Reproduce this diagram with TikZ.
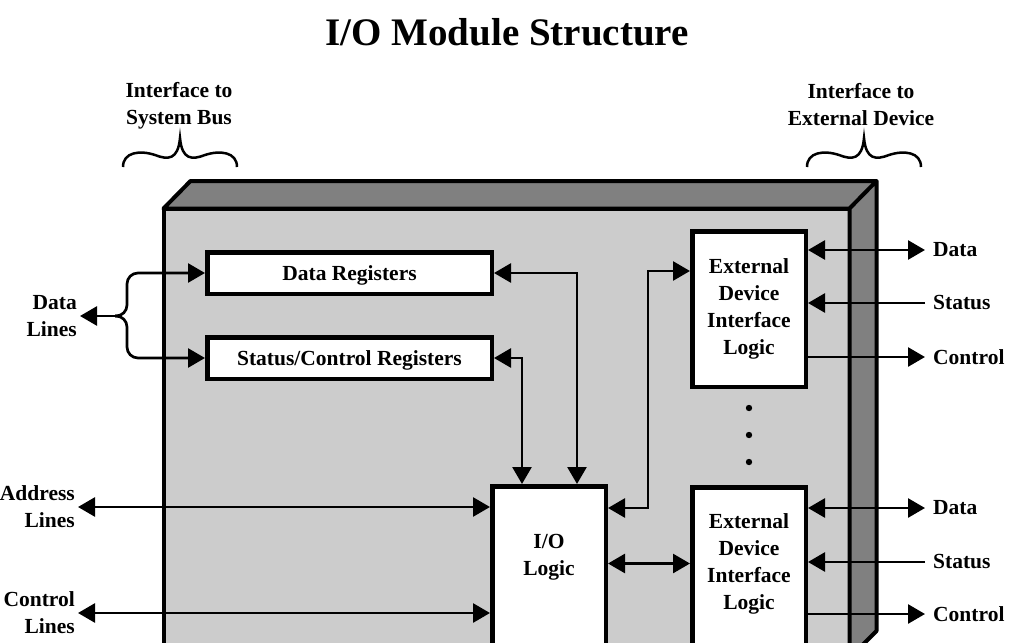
\documentclass[tikz,border=0pt]{standalone}
\usepackage{fontspec}
\setmainfont{Liberation Serif}
\usetikzlibrary{arrows.meta,calc}

\begin{document}
\begin{tikzpicture}[x=1pt,y=-1pt,
    every node/.style={font=\bfseries\fontsize{21.5}{27}\selectfont, align=center},
    regbox/.style={draw, line width=4.5pt, fill=white, anchor=north west, minimum width=284.5pt, minimum height=41.5pt, text depth=0pt},
    logicbox/.style={draw, line width=4.5pt, fill=white, anchor=north west, minimum width=113.5pt},
    leftlbl/.style={anchor=east, align=right, inner xsep=3pt},
    rightlbl/.style={anchor=west, inner xsep=8pt},
    sgl/.style={line width=2.7pt, -{Triangle[length=17pt,width=19pt]}},
    dbl/.style={line width=2.7pt, {Triangle[length=17pt,width=19pt]}-{Triangle[length=17pt,width=19pt]}}]
    \useasboundingbox (0,0) rectangle (1021,643);

    \node (title) [anchor=base, font=\bfseries\fontsize{39}{45}\selectfont] at (507,45) {I/O Module Structure};
    \node (busif) at (179,106) {Interface to\\System Bus};
    \node (extif) at (861,105) {Interface to\\External Device};
    \foreach \bx in {123,807}
        \draw [line width=2.5pt, shift={(\bx,0)}]
        (0,167) .. controls (0,152) and (17,150) .. (32,155)
        .. controls (45,160) and (55,160) .. (57,138)
        .. controls (59,160) and (69,160) .. (82,155)
        .. controls (97,150) and (114,152) .. (114,167);

    \draw [line width=4pt, line join=round, fill=black!20] (163.5,208.5) rectangle (849.5,662);
    \draw [line width=4pt, line join=round, fill=black!50]
    (163.5,208.5) -- (190.5,181) -- (876.5,181) -- (849.5,208.5) -- cycle
    (849.5,208.5) -- (876.5,181) -- (876.5,631) -- (849.5,658) -- cycle;

    \node (dreg) [regbox] at (205,250) {Data Registers};
    \node (sreg) [regbox] at (205,335) {Status/Control Registers};
    \node (edil1) [logicbox, minimum height=155.5pt] at (690,229) {External\\Device\\Interface\\Logic};
    \node (edil2) [logicbox, minimum height=170pt] at (690,485) {};
    \node (e2txt) at (749,563.5) {External\\Device\\Interface\\Logic};
    \node (iol) [logicbox, minimum height=170pt] at (490,484) {};
    \node (iotxt) at (549,557.5) {I/O\\Logic};
    \foreach \y in {408,435,462}
        \fill (749,\y) circle (3.2);

    \node (dlines) [leftlbl] at (80,316) {Data\\Lines};
    \node (addr) [leftlbl] at (78,507) {Address\\Lines};
    \node (ctrl) [leftlbl] at (78,613) {Control\\Lines};
    \node (d1) [rightlbl] at (925,250) {Data};
    \node (s1) [rightlbl] at (925,303) {Status};
    \node (c1) [rightlbl] at (925,357) {Control};
    \node (d2) [rightlbl] at (925,508) {Data};
    \node (s2) [rightlbl] at (925,562) {Status};
    \node (c2) [rightlbl] at (925,614) {Control};

    \coordinate (dj) at (115,316);
    \draw [line width=2.7pt, {Triangle[length=17pt,width=19pt]}-] (dlines.east) -- (dj);
    \draw [sgl, rounded corners=11pt] (dj) -- (127,316) |- (dreg.west);
    \draw [sgl, rounded corners=11pt] (dj) -- (127,316) |- (sreg.west);
    \draw [dbl] (dreg.east) -| ($(iol.north)+(28,0)$);
    \draw [dbl] (sreg.east) -| ($(iol.north)+(-27,0)$);
    \draw [dbl] ($(iol.north east)+(0,24)$) -- ++(40,0) |- ($(edil1.north west)+(0,42)$);
    \draw [dbl] (iol.east |- e2txt) -- (edil2.west |- e2txt);
    \draw [dbl] (addr.east) -- (iol.west |- addr.east);
    \draw [dbl] (ctrl.east) -- (iol.west |- ctrl.east);

    \draw [dbl] (edil1.east |- d1.west) -- (d1.west);
    \draw [sgl] (s1.west) -- (edil1.east |- s1.west);
    \draw [sgl] (edil1.east |- c1.west) -- (c1.west);
    \draw [dbl] (edil2.east |- d2.west) -- (d2.west);
    \draw [sgl] (s2.west) -- (edil2.east |- s2.west);
    \draw [sgl] (edil2.east |- c2.west) -- (c2.west);
\end{tikzpicture}
\end{document}
